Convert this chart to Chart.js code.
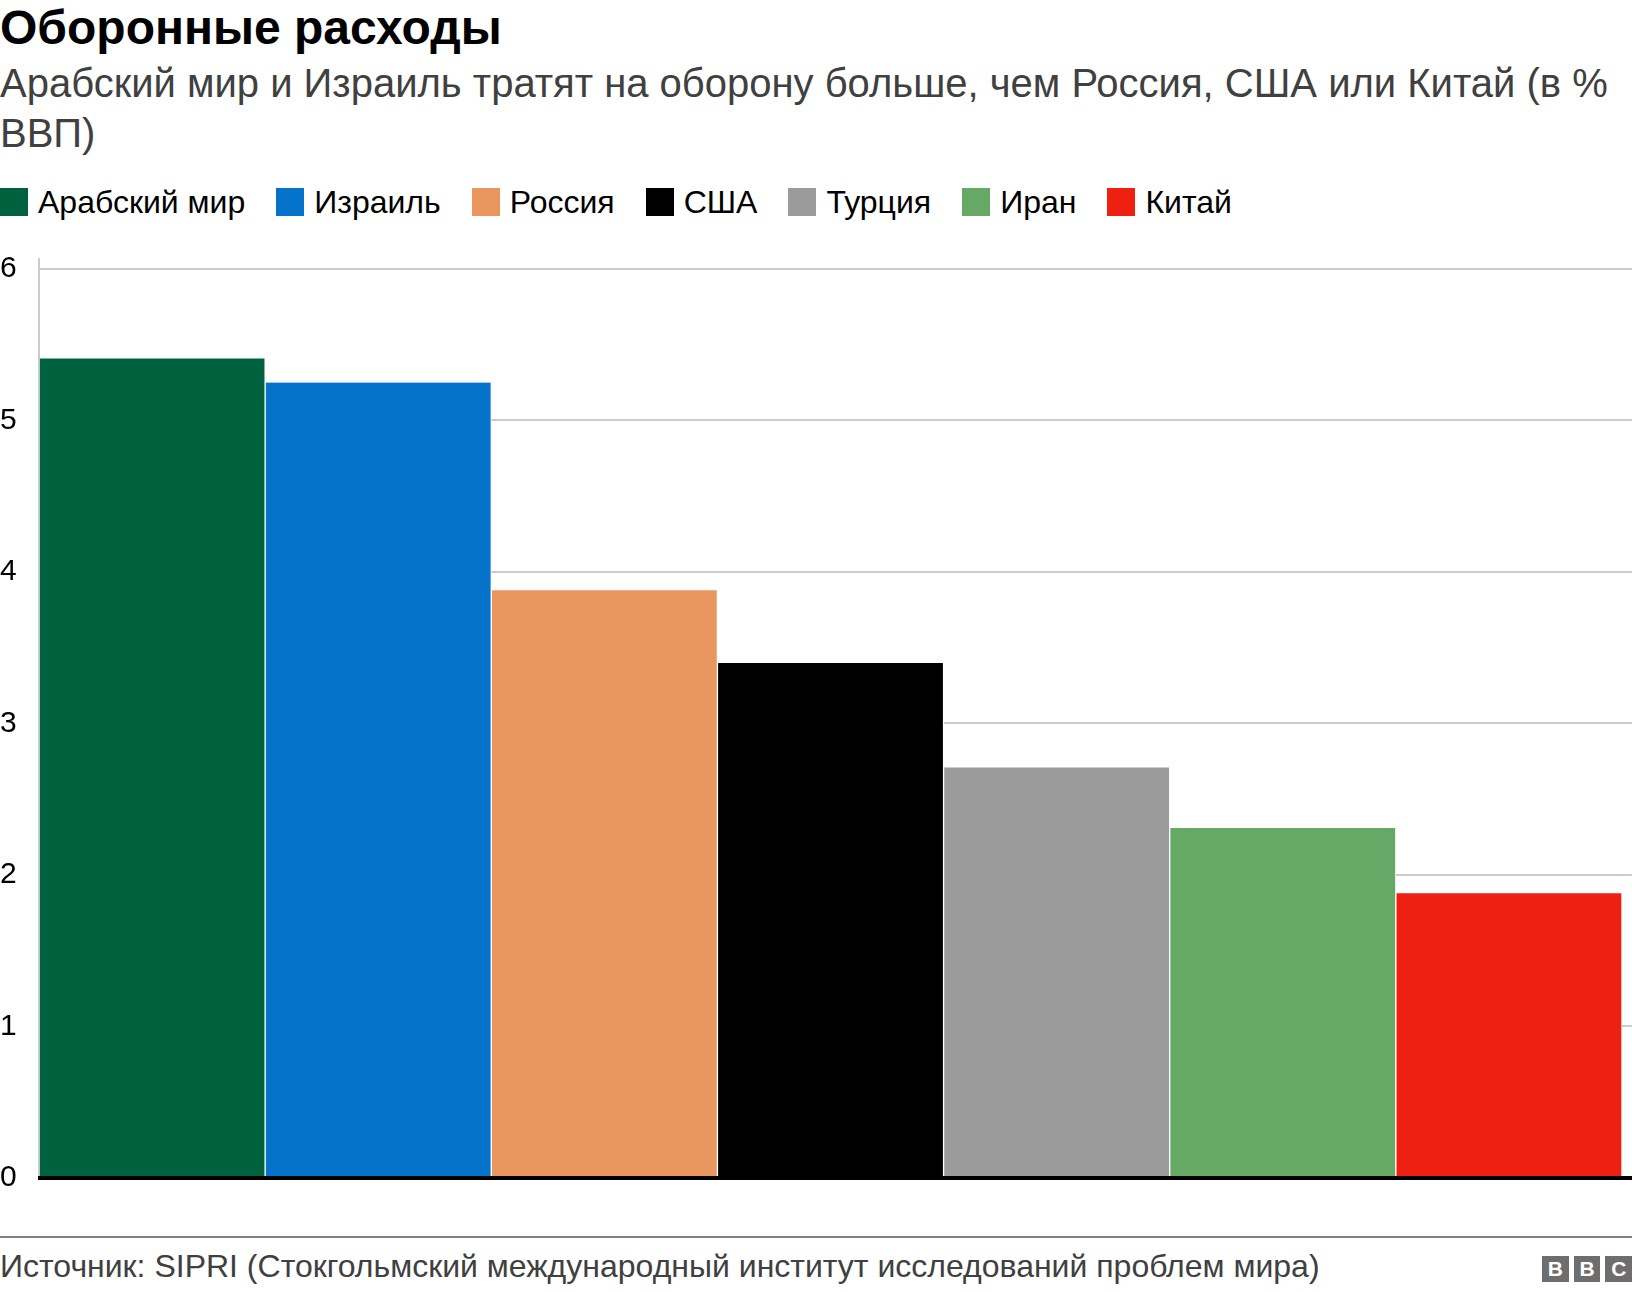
<!DOCTYPE html>
<html>
<head>
<meta charset="utf-8">
<script src="https://cdn.jsdelivr.net/npm/chart.js@4"></script>
<style>
  html, body { margin: 0; padding: 0; background: #fff; }
  body { width: 1632px; height: 1292px; position: relative; overflow: hidden;
         font-family: "Liberation Sans", Arial, Helvetica, sans-serif; }
  #title { position: absolute; left: 0; top: 3px; font-size: 48px; line-height: 50px; font-weight: bold; color: #000; white-space: nowrap; }
  #subtitle { position: absolute; left: 0; top: 58px; width: 1632px; font-size: 40px; line-height: 50px; color: #404040; }
  #legend { position: absolute; left: 0; top: 182px; height: 40px; display: flex; align-items: center; }
  .item { display: flex; align-items: center; margin-right: 31px; font-size: 32px; line-height: 40px; color: #000; white-space: nowrap; }
  .sw { width: 28px; height: 28px; margin-right: 10px; }
  #wrap { position: absolute; left: 0; top: 230px; width: 1632px; height: 960px; }
  #rule { position: absolute; left: 0; top: 1236px; width: 1632px; height: 2px; background: #808080; }
  #footer { position: absolute; left: 0; top: 1246px; font-size: 32px; line-height: 40px; color: #404040; white-space: nowrap; }
  #bbc { position: absolute; left: 1542px; top: 1256px; display: flex; }
  #bbc span { display: block; width: 26.7px; height: 25.7px; background: #6e6e6e; color: #fff; font-weight: bold;
              font-size: 21px; line-height: 26px; text-align: center; margin-left: 5px; }
  #bbc span:first-child { margin-left: 0; }
</style>
</head>
<body>
<div id="title">Оборонные расходы</div>
<div id="subtitle">Арабский мир и Израиль тратят на оборону больше, чем Россия, США или Китай (в % ВВП)</div>
<div id="legend"></div>
<div id="wrap"><canvas id="c"></canvas></div>
<div id="rule"></div>
<div id="footer">Источник: SIPRI (Стокгольмский международный институт исследований проблем мира)</div>
<div id="bbc"><span>B</span><span>B</span><span>C</span></div>
<script>
const categories = ["Арабский мир", "Израиль", "Россия", "США", "Турция", "Иран", "Китай"];
const values = [5.41, 5.25, 3.88, 3.40, 2.71, 2.31, 1.88];
const colors = ["#00613e", "#0673ca", "#ea975f", "#000000", "#9b9b9b", "#66a966", "#ee2011"];
const yTicks = [0, 1, 2, 3, 4, 5, 6];

// HTML legend built from the arrays
const legend = document.getElementById('legend');
categories.forEach((c, i) => {
  const it = document.createElement('div');
  it.className = 'item';
  const sw = document.createElement('div');
  sw.className = 'sw';
  sw.style.background = colors[i];
  it.appendChild(sw);
  it.appendChild(document.createTextNode(c));
  legend.appendChild(it);
});

function align(chart, pixel, width) {
  const dpr = chart.currentDevicePixelRatio || 1;
  const half = width / 2;
  return Math.round((pixel - half) * dpr) / dpr + half;
}

const extras = {
  id: 'extras',
  beforeDatasetsDraw(chart) {
    // extend gridlines to the right edge of the canvas
    const { ctx, chartArea, scales: { y } } = chart;
    ctx.save();
    ctx.strokeStyle = '#cccccc';
    ctx.lineWidth = 2;
    yTicks.forEach(v => {
      if (v === 0) return;
      const py = align(chart, y.getPixelForValue(v), 2);
      ctx.beginPath();
      ctx.moveTo(chartArea.right - 1, py);
      ctx.lineTo(chart.width, py);
      ctx.stroke();
    });
    ctx.restore();
  },
  afterDatasetsDraw(chart) {
    const { ctx, chartArea, scales: { y } } = chart;
    const py = align(chart, y.getPixelForValue(0), 4);
    ctx.save();
    ctx.fillStyle = '#000';
    ctx.fillRect(chartArea.left - 1, py - 2, chart.width - chartArea.left + 1, 4);
    ctx.restore();
  }
};

new Chart(document.getElementById('c'), {
  type: 'bar',
  data: {
    labels: categories,
    datasets: [{
      data: values,
      backgroundColor: colors,
      borderColor: '#ffffff',
      borderWidth: { left: 1, right: 1, top: 0, bottom: 0 },
      borderSkipped: false,
      barPercentage: 1,
      categoryPercentage: 1
    }]
  },
  options: {
    responsive: true,
    maintainAspectRatio: false,
    animation: false,
    layout: { padding: { top: 29, bottom: 12, right: 10, left: 0 } },
    plugins: { legend: { display: false }, tooltip: { enabled: false } },
    scales: {
      x: { display: false },
      y: {
        min: 0,
        max: 6.066,
        afterBuildTicks(scale) { scale.ticks = yTicks.map(v => ({ value: v })); },
        afterFit(scale) {
          scale.width = 39;
          scale.paddingTop = 0;
          scale.paddingBottom = 0;
        },
        ticks: {
          stepSize: 1,
          crossAlign: 'far',
          padding: 0,
          color: '#000',
          font: { family: '"Liberation Sans", Arial, sans-serif', size: 30 }
        },
        grid: { color: '#cccccc', lineWidth: 2, drawTicks: false },
        border: { display: true, color: '#cccccc', width: 2 }
      }
    }
  },
  plugins: [extras]
});
</script>
</body>
</html>
